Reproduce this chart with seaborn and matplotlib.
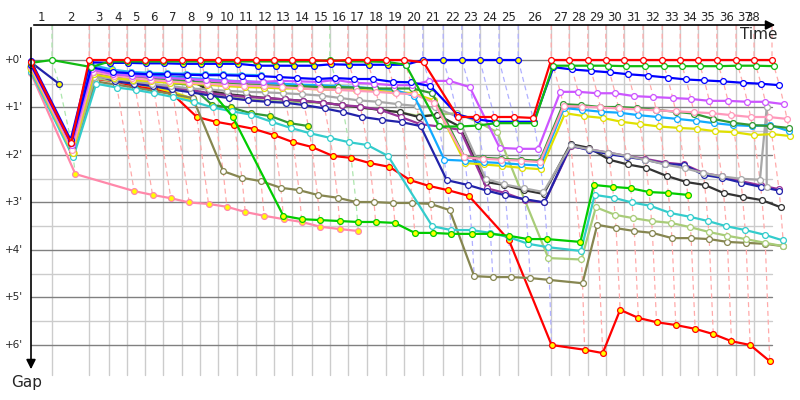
import numpy as np
import matplotlib
matplotlib.use('Agg')
import matplotlib.pyplot as plt
import seaborn as sns

# leader's lap completion times (minutes from the start), laps 0..38
lap_time = [0, 3.5, 9.7, 13.0, 16.0, 19.0, 22.0, 25.2, 28.2, 31.2, 34.3, 37.5, 40.5,
            43.5, 46.8, 49.8, 52.8, 56.0, 59.2, 62.2, 65.3, 68.7, 71.8, 74.8, 78.0,
            81.2, 86.7, 89.7, 92.8, 95.8, 98.8, 102.0, 105.2, 108.2, 111.2, 114.3,
            117.5, 120.5, 123.5]
lap_labels = [str(i) for i in range(1, 39)]
gap_labels = ["+0'", "+1'", "+2'", "+3'", "+4'", "+5'", "+6'"]

# gap to the leader (minutes) for every lap, None = no time for that lap
red = [0.05, 1.75] + [0] * 13 + [0.02, 0, 0, 0, 0, 0.05, 1.2, 1.2, 1.2, 1.2, 1.22] + [0] * 13
green = [0.06, 0, 0.15] + [0.03] * 12 + [0, 0.03, 0.03, 0.04, 0.1, 1.4, 1.4, 1.38, 1.33,
         1.33, 1.33, 0.12, 0.12, 0.12, 0.12, 0.13, 0.13, 0.13, 0.13, 0.13, 0.13, 0.12, 0.12, 0.13]
blue_y = [0.02, 1.68, 0.05, 0.06, 0.06, 0.07, 0.07, 0.08, 0.08, 0.08, 0.08, 0.12, 0.12,
          0.12, 0.12, 0.09, 0.1, 0.1, 0.1, 0.1, 0, 0, 0, 0, 0, 0]
blue = [0.1, 1.75, 0.15, 0.25, 0.28, 0.3, 0.3, 0.31, 0.32, 0.32, 0.33, 0.34, 0.36, 0.38,
        0.4, 0.38, 0.4, 0.4, 0.46, 0.47, 0.55, 1.15, 1.25, 1.3, 1.3, 1.3, 0.15, 0.2, 0.23,
        0.26, 0.3, 0.33, 0.37, 0.41, 0.43, 0.45, 0.48, 0.5, 0.53]
violet = [0.1, 1.8, 0.2, 0.3, 0.33, 0.36, 0.38, 0.4, 0.42, 0.44, 0.45, 0.46, 0.44, 0.45,
          0.46, 0.42, 0.48, 0.5, 0.53, 0.53, 0.44, 0.44, 0.57, 1.85, 1.87, 1.87, 0.67,
          0.67, 0.7, 0.7, 0.76, 0.78, 0.8, 0.82, 0.86, 0.86, 0.88, 0.88, 0.93]
pink = [0.15, 1.9, 0.25, 0.33, 0.38, 0.42, 0.45, 0.48, 0.5, 0.52, 0.54, 0.55, 0.57, 0.6,
        0.62, 0.63, 0.65, 0.67, 0.7, 0.72, 0.9, 2.05, 2.08, 2.1, 2.12, 2.15, 0.97, 0.98,
        1.0, 1.02, 1.04, 1.06, 1.08, 1.1, 1.12, 1.16, 1.2, 1.2, 1.24]
dkgreen = [0.12, 1.85, 0.25, 0.3, 0.35, 0.38, 0.4, 0.45, 0.48, 0.5, 0.52, 0.53, 0.55,
           0.55, 0.57, 0.57, 0.58, 0.6, 0.6, 0.6, 0.7, 2.04, 2.06, 2.08, 2.1, 2.12, 0.93,
           0.95, 0.99, 0.99, 1.01, 1.05, 1.09, 1.13, 1.24, 1.32, 1.37, 1.39, 1.43]
skyblue = [0.1, 1.8, 0.2, 0.28, 0.3, 0.33, 0.35, 0.38, 0.4, 0.43, 0.45, 0.47, 0.5, 0.52,
           0.53, 0.55, 0.57, 0.6, 0.63, 0.76, 2.1, 2.12, 2.15, 2.17, 2.2, 2.22, 1.01, 1.05,
           1.09, 1.11, 1.16, 1.2, 1.24, 1.28, 1.33, 1.37, 1.39, 1.37, 1.5]
yellow = [0.18, 1.95, 0.3, 0.38, 0.42, 0.45, 0.48, 0.5, 0.52, 0.55, 0.57, 0.58, 0.6, 0.6,
          0.62, 0.63, 0.63, 0.65, 0.67, 0.7, 0.85, 2.17, 2.2, 2.23, 2.27, 2.3, 1.12, 1.18,
          1.22, 1.3, 1.35, 1.4, 1.43, 1.45, 1.5, 1.52, 1.58, 1.56, 1.6]
gray = [0.2, 1.95, 0.35, 0.4, 0.45, 0.5, 0.55, 0.6, 0.62, 0.65, 0.67, 0.68, 0.7, 0.72,
        0.75, 0.8, 0.85, 0.88, 0.93, 0.97, 1.0, 1.2, 2.5, 2.62, 2.7, 2.78, 1.8, 1.88, 1.95,
        2.02, 2.1, 2.2, 2.28, 2.38, 2.45, 2.5, 2.52, 1.0]
gray_final_gap = 2.68
navy = [0.15, 1.9, 0.3, 0.45, 0.5, 0.55, 0.62, 0.68, 0.75, 0.8, 0.85, 0.88, 0.9, 0.95,
        1.02, 1.1, 1.2, 1.26, 1.31, 1.39, 2.53, 2.63, 2.75, 2.85, 2.93, 3.0, 1.8, 1.9,
        1.98, 2.04, 2.1, 2.19, 2.21, 2.42, 2.48, 2.58, 2.67, 2.75]
purple = [0.15, 1.9, 0.32, 0.42, 0.48, 0.52, 0.58, 0.63, 0.7, 0.74, 0.78, 0.8, 0.83, 0.86,
          0.9, 0.95, 0.98, 1.05, 1.2, 1.35, 1.4, 1.47, 2.7, 2.8, 2.95, 3.0, 1.82, 1.88,
          1.95, 2.02, 2.08, 2.16, 2.2, 2.38, 2.45, 2.55, 2.64, 2.72]
black = [0.12, 1.85, 0.28, 0.3, 0.32, 0.33, 0.35, 0.37, 0.65, 0.72, 0.76, 0.8, 0.83, 0.86,
         0.9, 0.95, 1.0, 1.05, 1.1, 1.2, 1.15, 1.4, 2.57, 2.63, 2.74, 2.82, 1.77, 1.85,
         2.1, 2.2, 2.27, 2.44, 2.57, 2.63, 2.8, 2.88, 2.95, 3.1]
lime = [0.08, 1.9, 0.28, 0.33, 0.37, 0.4, 0.43, 0.45, 0.58, 1.2, None, 3.28, 3.35, 3.37,
        3.39, 3.41, 3.41, 3.43, 3.64, 3.64, 3.66, 3.66, 3.66, 3.7, 3.77, 3.77, 3.83, 2.63,
        2.67, 2.7, 2.78, 2.8, 2.84]
cyan = [0.25, 2.05, 0.5, 0.58, 0.63, 0.7, 0.78, 0.88, 1.0, 1.08, 1.15, 1.3, 1.43, 1.54,
        1.64, 1.73, 1.79, 2.02, None, 3.5, 3.58, 3.58, 3.64, 3.73, 3.87, 3.94, 4.02, 2.84,
        2.9, 3.0, 3.07, 3.22, 3.3, 3.39, 3.5, 3.58, 3.68, 3.8]
ltolive = [0.18, 1.95, 0.38, 0.45, 0.5, 0.55, 0.6, 0.66, 0.72, 0.78, 0.82, 0.86, 0.88,
           0.89, 0.9, 0.95, 1.0, 1.05, 1.1, 1.18, 1.15, 1.12, 1.3, 1.52, None, 4.17, 4.2,
           3.1, 3.26, 3.33, 3.39, 3.43, 3.52, 3.62, 3.7, 3.77, 3.85, 3.92]
olive = [0.2, 2.0, 0.45, 0.52, 0.58, 0.65, 0.72, 0.8, 2.34, 2.48, 2.55, 2.69, 2.74, 2.84,
         2.9, 2.99, 2.99, 3.01, 3.01, 3.03, 3.16, 4.55, 4.57, 4.57, 4.59, 4.63, 4.7, 3.47,
         3.54, 3.6, 3.64, 3.75, 3.75, 3.77, 3.83, 3.85, 3.87, 3.92]
red_y = [0.15, 1.95, 0.4, 0.45, 0.55, 0.62, 0.72, 1.2, 1.3, 1.37, 1.45, 1.58, 1.73, 1.83,
         2.02, 2.06, 2.17, 2.25, 2.53, 2.65, 2.74, 2.86, None, 3.79, None, 6.0, 6.1, 6.17,
         5.26, 5.43, 5.52, 5.58, 5.66, 5.77, 5.92, 6.0, 6.34]
pink_y = [0.28, 2.4, None, 2.76, 2.84, 2.91, 3.0, 3.03, 3.09, 3.2, 3.28, 3.35, 3.41, 3.51,
          3.56, 3.6]
dkgreen_y = [0.12, 1.85, 0.3, 0.35, 0.38, 0.42, 0.48, 0.52, 0.95, 1.0, 1.12, 1.18, 1.33, 1.39]
sky_y = [0.08, 1.8, 0.1, 0.2, 0.25, 0.27, 0.28, 0.29, 0.3, 0.3, 0.31, 0.32]
yellow_y = [0.15, 1.95, 0.29, 0.36, 0.42, 0.61, 0.69, 0.84]
orchid_y = [0.12, 1.85, 0.2, 0.3, 0.35, 0.38, 0.4, 0.42, 0.45, 0.47, 0.48, 0.5, 0.5, 0.55,
            0.58, 0.6, 0.62]
navy_y = [0.05, 0.5]

# name, line colour, marker face, gaps, line width (first drawn = bottom)
cars = [
    ('navy_y', '#2222AA', '#FFFF00', navy_y, 1.6),
    ('orchid_y', '#CC77DD', '#FFFF00', orchid_y, 1.6),
    ('yellow_y', '#E8E800', '#FFFF00', yellow_y, 3.0),
    ('sky_y', '#33BBEE', '#FFFF00', sky_y, 1.6),
    ('dkgreen_y', '#339933', '#FFFF00', dkgreen_y, 1.6),
    ('pink_y', '#FF88AA', '#FFFF00', pink_y, 1.6),
    ('red_y', '#FF0000', '#FFFF00', red_y, 1.6),
    ('olive', '#868650', 'white', olive, 1.6),
    ('ltolive', '#A8CC78', 'white', ltolive, 1.6),
    ('cyan', '#33CCCC', 'white', cyan, 1.6),
    ('lime', '#00CC00', '#FFFF00', lime, 1.6),
    ('black', '#333333', 'white', black, 1.6),
    ('purple', '#993399', 'white', purple, 1.6),
    ('navy', '#2222AA', 'white', navy, 1.6),
    ('gray', '#A8A8A8', 'white', gray, 1.6),
    ('yellow', '#E0E000', 'white', yellow, 1.6),
    ('skyblue', '#11AAFF', 'white', skyblue, 1.6),
    ('dkgreen', '#339933', 'white', dkgreen, 1.6),
    ('pink', '#FF99BB', 'white', pink, 1.6),
    ('violet', '#CC55FF', 'white', violet, 1.6),
    ('blue', '#0000FF', 'white', blue, 1.6),
    ('blue_y', '#0000FF', '#FFFF00', blue_y, 1.6),
    ('green', '#11BB11', 'white', green, 1.6),
    ('red', '#FF0000', 'white', red, 1.6),
]
lap_line_colour = {'red': '#FFAAAA', 'green': '#ADE6AD', 'blue_y': '#B0B0FF'}


def x_pos(lap, g):
    # a car behind crosses the line later than the leader
    if lap == 0:
        return 0.0
    return lap_time[lap] + 6.0 * (1 - np.exp(-g / 2.3))


sns.set_style('white')
plt.rcParams['font.family'] = ['DejaVu Sans']

fig = plt.figure(figsize=(8, 4), dpi=100)
ax = fig.add_axes([0, 0, 1, 1])
ax.set_xlim(-31 / 6, 769 / 6)
ax.set_ylim(340 / 47.5, -60 / 47.5)
ax.axis('off')

y_top = -35 / 47.5
y_grid_end = 315 / 47.5
x_grid_end = 741 / 6

# grid
for t in lap_time[1:38]:
    ax.plot([t, t], [y_top, y_grid_end], color='#CCCCCC', lw=1, zorder=1)
for g in np.arange(0.5, 6, 1.0):
    ax.plot([0, x_grid_end], [g, g], color='#CCCCCC', lw=1, zorder=1)
for g in range(0, 7):
    ax.plot([0, x_grid_end], [g, g], color='#808080', lw=1, zorder=1)

# dashed lap lines through every car's crossing of the same lap
for lap in range(1, 39):
    pts = []
    for name, col, face, gaps, lw in cars:
        if lap < len(gaps) and gaps[lap] is not None:
            pts.append((gaps[lap], name))
    pts.sort()
    leader = pts[0][1]
    xs = [lap_time[lap]] + [x_pos(lap, g) for g, n in pts]
    ys = [y_top] + [g for g, n in pts]
    ax.plot(xs, ys, color=lap_line_colour.get(leader, '#FFAAAA'), lw=0.9,
            dashes=(4, 3), zorder=2)

# cars
for i, (name, col, face, gaps, lw) in enumerate(cars):
    xs = [x_pos(n, g) for n, g in enumerate(gaps) if g is not None]
    ys = [g for g in gaps if g is not None]
    if name == 'gray':
        xs.append(xs[-1])
        ys.append(gray_final_gap)
    sns.lineplot(x=xs, y=ys, sort=False, estimator=None, ax=ax, color=col, lw=lw,
                 marker='o', markersize=4.2 if lw < 2 else 5.2, markerfacecolor=face,
                 markeredgecolor=col, markeredgewidth=0.9, legend=False, zorder=3 + i)

# axes with arrows
ax.annotate('', xy=(747 / 6, y_top), xytext=(0, y_top),
            arrowprops=dict(arrowstyle='-|>', color='black', lw=1.2, mutation_scale=14),
            zorder=40)
ax.annotate('', xy=(0, 312 / 47.5), xytext=(0, y_top),
            arrowprops=dict(arrowstyle='-|>', color='black', lw=1.2, mutation_scale=14),
            zorder=40)

label_pos = [(lap_time[i] + lap_time[i + 1]) / 2 for i in range(37)] + [lap_time[37] - 0.2]
for pos, lab in zip(label_pos, lap_labels):
    ax.text(pos, -42 / 47.5, lab, ha='center', va='center', fontsize=8.5)
for g, lab in enumerate(gap_labels):
    ax.text(-8 / 6, g, lab, ha='right', va='center', fontsize=7.5)
ax.text(746 / 6, -33 / 47.5, 'Time', ha='right', va='top', fontsize=11)
ax.text(-20 / 6, 315 / 47.5, 'Gap', ha='left', va='top', fontsize=11)

fig.savefig('out.png', dpi=100)
